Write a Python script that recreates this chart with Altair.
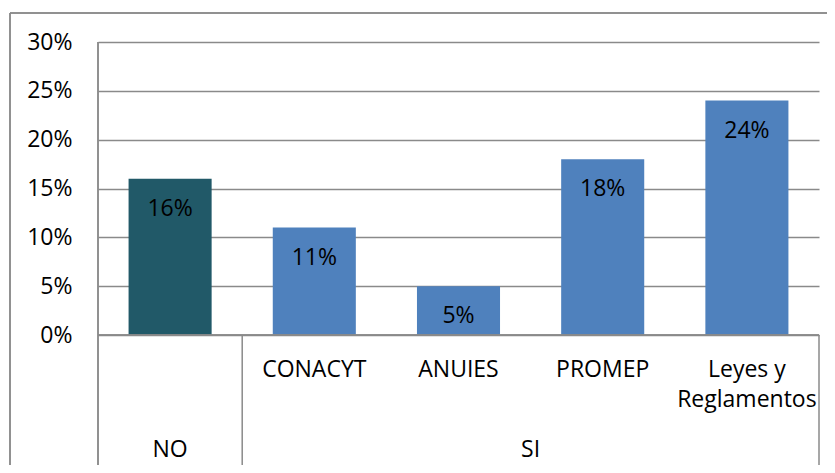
import altair as alt
import pandas as pd

# data
categories = ["NO", "CONACYT", "ANUIES", "PROMEP", "Leyes y Reglamentos"]
cat_labels = [[""], ["CONACYT"], ["ANUIES"], ["PROMEP"], ["Leyes y", "Reglamentos"]]
values = [16, 11, 5, 18, 24]
bar_group = ["NO", "SI", "SI", "SI", "SI"]
groups = ["NO", "SI"]
group_start = [0, 1]
group_end = [1, 5]
y_ticks = [0, 5, 10, 15, 20, 25, 30]

FONT = "Open Sans"
FS = 23
GRID = "#8a8a8a"

bars_df = pd.DataFrame({
    "cat": categories,
    "lab": cat_labels,
    "value": values,
    "grp": bar_group,
    "idx": list(range(len(categories))),
})
grp_df = pd.DataFrame({"grp": groups, "start": group_start, "end": group_end})

W, H = 721, 293

xs = alt.Scale(domain=[0, 5], nice=False, zero=False)
ys = alt.Scale(domain=[0, 30], nice=False)

base = alt.Chart(bars_df).transform_calculate(
    x0="datum.idx + 0.212", x1="datum.idx + 0.788", xc="datum.idx + 0.5",
    txt="datum.value + '%'",
)

bars = base.mark_bar().encode(
    x=alt.X("x0:Q", scale=xs, axis=None),
    x2="x1:Q",
    y=alt.Y("value:Q", scale=ys, axis=alt.Axis(
        values=y_ticks, labelExpr="datum.value + '%'", grid=True,
        gridColor=GRID, gridWidth=1.5, domain=False, ticks=False, tickSize=0,
        labelPadding=26, labelFont=FONT, labelFontSize=FS, labelColor="#000000",
        title=None)),
    y2=alt.datum(0),
    color=alt.Color("grp:N", scale=alt.Scale(domain=groups, range=["#215968", "#4F81BD"]), legend=None),
)

vlabels = base.mark_text(font=FONT, fontSize=FS, color="#000000", baseline="alphabetic", dy=37).encode(
    x=alt.X("xc:Q", scale=xs),
    y=alt.Y("value:Q", scale=ys),
    text="txt:N",
)

clabels = base.mark_text(font=FONT, fontSize=FS, color="#000000", baseline="alphabetic", lineHeight=30).encode(
    x=alt.X("xc:Q", scale=xs),
    y=alt.value(H + 42),
    text="lab",
)

gbase = alt.Chart(grp_df).transform_calculate(gc="(datum.start + datum.end) / 2")

glabels = gbase.mark_text(font=FONT, fontSize=FS, color="#000000", baseline="alphabetic").encode(
    x=alt.X("gc:Q", scale=xs),
    y=alt.value(H + 122),
    text="grp:N",
)

seps = gbase.mark_rule(color=GRID, strokeWidth=1.5).encode(
    x=alt.X("end:Q", scale=xs),
    y=alt.value(H),
    y2=alt.value(H + 160),
)

left_axis = alt.Chart(grp_df).mark_rule(color=GRID, strokeWidth=1.5).encode(
    x=alt.value(0), y=alt.value(0), y2=alt.value(H + 160))
bottom_axis = alt.Chart(grp_df).mark_rule(color=GRID, strokeWidth=1.5).encode(
    x=alt.value(0), x2=alt.value(W), y=alt.value(H))
outer_left = alt.Chart(grp_df).mark_rule(color=GRID, strokeWidth=1.5).encode(
    x=alt.value(-88), y=alt.value(-29), y2=alt.value(H + 160))
outer_top = alt.Chart(grp_df).mark_rule(color=GRID, strokeWidth=1.5).encode(
    x=alt.value(-88), x2=alt.value(W + 40), y=alt.value(-29))

chart = alt.layer(
    bars, vlabels, clabels, glabels, seps, left_axis, bottom_axis, outer_left, outer_top
).properties(
    width=W, height=H,
    autosize=alt.AutoSizeParams(type="none"),
    padding={"left": 90, "top": 34, "right": 8, "bottom": 130},
    background="white",
).configure_view(stroke=None)

chart.save("out.html", embed_options={"renderer": "svg", "actions": False})
